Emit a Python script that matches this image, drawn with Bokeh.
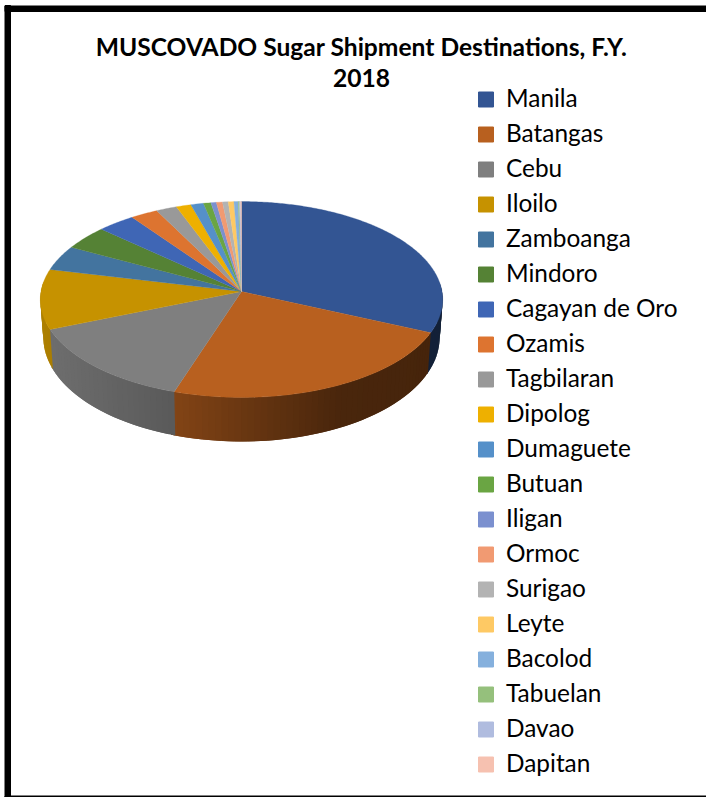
from bokeh.core.properties import value
from bokeh.embed import file_html
from bokeh.models import ColumnDataSource, Range1d
from bokeh.plotting import figure
from bokeh.resources import INLINE
import numpy as np

# Share of shipments per destination, percent
destinations = ["Manila", "Batangas", "Cebu", "Iloilo", "Zamboanga", "Mindoro",
                "Cagayan de Oro", "Ozamis", "Tagbilaran", "Dipolog", "Dumaguete",
                "Butuan", "Iligan", "Ormoc", "Surigao", "Leyte", "Bacolod",
                "Tabuelan", "Davao", "Dapitan"]
shares = [31.7, 23.3, 13.8, 9.9, 4.1, 4.0, 3.3, 2.4, 1.8, 1.3, 1.1,
          0.65, 0.47, 0.53, 0.5, 0.49, 0.37, 0.1, 0.1, 0.08]
colors = ["#335593", "#b8601f", "#7f7f7f", "#c69200", "#43749f", "#558235",
          "#3f66b5", "#dd7430", "#999999", "#eeb000", "#5590c9", "#6aa543",
          "#7b90cf", "#f19a72", "#b3b3b3", "#fec964", "#85b0dd", "#95c07c",
          "#b0bcdf", "#f6c1b0"]
title_lines = ["MUSCOVADO Sugar Shipment Destinations, F.Y.", "2018"]

W, H = 706, 797
APEX_X, APEX_Y = 241.0, 291.0
RX, RY, PERSP = 200.5, 97.3, 0.0816

# Wall brightness, left to right across the disc
SHADE_X = [38, 174, 241, 340, 445]
SHADE_K = [0.88, 0.71, 0.58, 0.40, 0.38]


def rim(theta):
    """Tilted-disc projection of clockwise-from-top angles; returns page offsets."""
    u, v = np.sin(theta), np.cos(theta)
    d = 1 + PERSP * v
    return RX * u / d, -RY * v / d


def shade(color, k):
    r, g, b = int(color[1:3], 16), int(color[3:5], 16), int(color[5:7], 16)
    return "#%02x%02x%02x" % (int(r * k), int(g * k), int(b * k))


p = figure(width=W, height=H, x_range=Range1d(0, W), y_range=Range1d(H, 0),
           output_backend="svg", toolbar_location=None, min_border=0,
           outline_line_color=None)
p.axis.visible = False
p.grid.visible = False
p.background_fill_color = "white"
p.border_fill_color = "white"

# Frame round the chart
p.quad(left=[4.5], right=[10], top=[5], bottom=[H], color="black")
p.quad(left=[4.5], right=[W], top=[5.5], bottom=[11], color="black")
p.quad(left=[4.5], right=[W], top=[795.5], bottom=[H], color="black")

edges = np.concatenate([[0], np.cumsum(shares)]) / np.sum(shares) * 2 * np.pi

# Side wall: shaded strips along the front of the disc. Each slice runs a little
# past its end so the following slice covers the seam.
wall = {"xs": [], "ys": [], "c": []}
for start, stop, col in zip(edges[:-1], edges[1:], colors):
    lo, hi = max(start, np.pi / 2 - 0.1), min(stop + 0.02, 3 * np.pi / 2 + 0.1)
    if hi <= lo:
        continue
    n = max(2, int((hi - lo) / 0.03))
    t = np.linspace(lo, hi, n + 1)
    x, y = rim(t)
    bx, by = x * 0.985, y * 1.063 + 37.4
    for i in range(n):
        j = min(i + 2, n)
        xm = APEX_X + (x[i] + x[i + 1]) / 2
        wall["xs"].append(list(APEX_X + np.array([x[i], x[j], bx[j], bx[i]])))
        wall["ys"].append(list(APEX_Y + np.array([y[i], y[j], by[j], by[i]])))
        wall["c"].append(shade(col, float(np.interp(xm, SHADE_X, SHADE_K))))
p.patches("xs", "ys", source=ColumnDataSource(wall), fill_color="c", line_color=None)

# Top face of the disc
top = {"xs": [], "ys": [], "c": []}
for start, stop, col in zip(edges[:-1], edges[1:], colors):
    t = np.linspace(start, stop, max(3, int((stop - start) / 0.01)))
    x, y = rim(t)
    top["xs"].append([APEX_X] + list(APEX_X + x))
    top["ys"].append([APEX_Y] + list(APEX_Y + y))
    top["c"].append(col)
p.patches("xs", "ys", source=ColumnDataSource(top), fill_color="c", line_color="c", line_width=0.3)

# Title
p.text(x=[361, 361], y=[45.5, 77], text=title_lines, text_font=value("Lato"),
       text_font_style="bold", text_font_size="24.6px", text_align="center",
       text_baseline="middle", text_color="black")

# Legend column
rows = 99 + 35 * np.arange(len(destinations))
p.quad(left=478, right=493, top=rows - 7.5, bottom=rows + 7.5, color=colors)
p.text(x=505.5, y=rows - 2, text=destinations, text_font=value("Lato"), text_font_size="24.4px",
       text_align="left", text_baseline="middle", text_color="black")

open("out.html", "w").write(file_html(p, INLINE))
